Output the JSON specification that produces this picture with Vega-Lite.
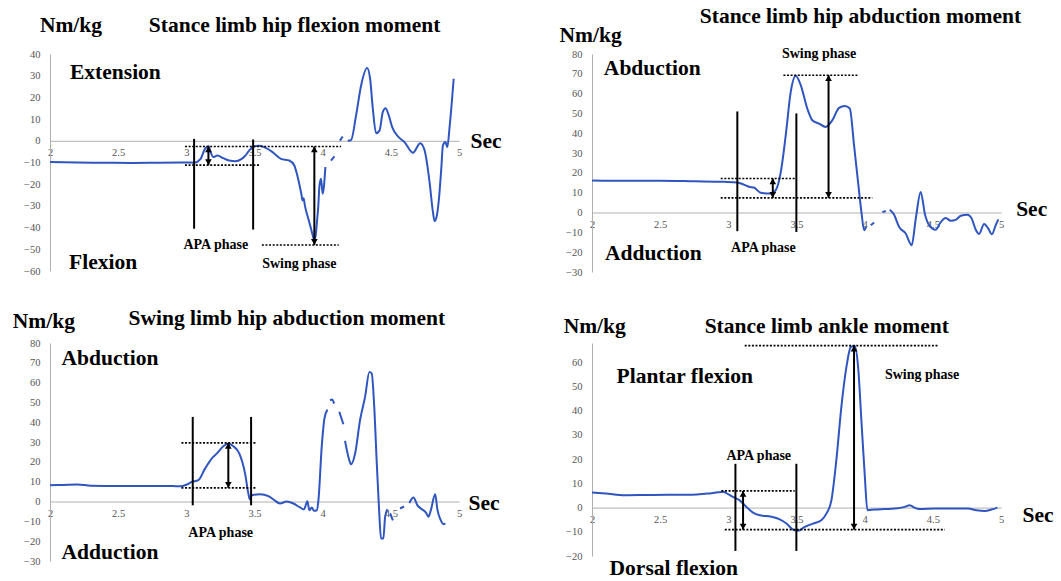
{
"$schema": "https://vega.github.io/schema/vega-lite/v6.json",
"padding": {"left": 12, "top": 5, "right": 0, "bottom": 0},
"background": "white",
"config": {"view": {"stroke": null}, "axis": {"domainColor": "#b0b0b0", "domainWidth": 1, "ticks": false, "tickSize": 0, "grid": false, "labelFont": "Liberation Serif", "labelFontSize": 10.5, "labelColor": "#555555", "title": null}},
"datasets": {
"curves": [
{"panel":1,"seg":"a","t":2,"v":-9.8},{"panel":1,"seg":"a","t":2.2,"v":-10.0},{"panel":1,"seg":"a","t":2.4,"v":-10.1},{"panel":1,"seg":"a","t":2.6,"v":-10.2},{"panel":1,"seg":"a","t":2.8,"v":-10.1},{"panel":1,"seg":"a","t":3.0,"v":-10.0},{"panel":1,"seg":"a","t":3.057,"v":-10.1},{"panel":1,"seg":"a","t":3.105,"v":-8.3},{"panel":1,"seg":"a","t":3.137,"v":-3.7},{"panel":1,"seg":"a","t":3.162,"v":-2.5},{"panel":1,"seg":"a","t":3.18,"v":-5.5},{"panel":1,"seg":"a","t":3.196,"v":-7.5},{"panel":1,"seg":"a","t":3.228,"v":-6.8},{"panel":1,"seg":"a","t":3.27,"v":-8.0},{"panel":1,"seg":"a","t":3.314,"v":-9.1},{"panel":1,"seg":"a","t":3.36,"v":-9.4},{"panel":1,"seg":"a","t":3.4,"v":-8.6},{"panel":1,"seg":"a","t":3.43,"v":-7.0},{"panel":1,"seg":"a","t":3.461,"v":-4.5},{"panel":1,"seg":"a","t":3.498,"v":-2.5},{"panel":1,"seg":"a","t":3.53,"v":-2.3},{"panel":1,"seg":"a","t":3.571,"v":-2.9},{"panel":1,"seg":"a","t":3.632,"v":-5.2},{"panel":1,"seg":"a","t":3.694,"v":-8.3},{"panel":1,"seg":"a","t":3.755,"v":-9.1},{"panel":1,"seg":"a","t":3.792,"v":-11.4},{"panel":1,"seg":"a","t":3.81,"v":-15},{"panel":1,"seg":"a","t":3.828,"v":-19.8},{"panel":1,"seg":"a","t":3.845,"v":-25},{"panel":1,"seg":"a","t":3.852,"v":-27.5},{"panel":1,"seg":"a","t":3.86,"v":-26.5},{"panel":1,"seg":"a","t":3.87,"v":-30},{"panel":1,"seg":"a","t":3.902,"v":-37.5},{"panel":1,"seg":"a","t":3.925,"v":-43},{"panel":1,"seg":"a","t":3.939,"v":-45.9},{"panel":1,"seg":"a","t":3.95,"v":-43},{"panel":1,"seg":"a","t":3.958,"v":-37.5},{"panel":1,"seg":"a","t":3.968,"v":-30},{"panel":1,"seg":"a","t":3.976,"v":-21},{"panel":1,"seg":"a","t":3.988,"v":-17.5},{"panel":1,"seg":"a","t":4.0,"v":-24.4},{"panel":1,"seg":"a","t":4.02,"v":-12.1},
{"panel":1,"seg":"b","t":4.061,"v":-9.1},{"panel":1,"seg":"b","t":4.086,"v":-7.2},
{"panel":1,"seg":"c","t":4.127,"v":0.1},{"panel":1,"seg":"c","t":4.147,"v":2.0},
{"panel":1,"seg":"d","t":4.184,"v":0},{"panel":1,"seg":"d","t":4.208,"v":0.3},{"panel":1,"seg":"d","t":4.245,"v":11.7},{"panel":1,"seg":"d","t":4.282,"v":25.5},{"panel":1,"seg":"d","t":4.326,"v":33.5},{"panel":1,"seg":"d","t":4.348,"v":28.6},{"panel":1,"seg":"d","t":4.368,"v":14.7},{"panel":1,"seg":"d","t":4.392,"v":3.5},{"panel":1,"seg":"d","t":4.417,"v":4.7},{"panel":1,"seg":"d","t":4.441,"v":13.2},{"panel":1,"seg":"d","t":4.461,"v":15},{"panel":1,"seg":"d","t":4.485,"v":11.7},{"panel":1,"seg":"d","t":4.51,"v":6.3},{"panel":1,"seg":"d","t":4.551,"v":2.1},{"panel":1,"seg":"d","t":4.6,"v":-0.6},{"panel":1,"seg":"d","t":4.662,"v":-5.5},{"panel":1,"seg":"d","t":4.716,"v":-1.1},{"panel":1,"seg":"d","t":4.748,"v":-4.5},{"panel":1,"seg":"d","t":4.784,"v":-19},{"panel":1,"seg":"d","t":4.809,"v":-32.9},{"panel":1,"seg":"d","t":4.821,"v":-37},{"panel":1,"seg":"d","t":4.838,"v":-34.3},{"panel":1,"seg":"d","t":4.853,"v":-26.7},{"panel":1,"seg":"d","t":4.87,"v":-12.9},{"panel":1,"seg":"d","t":4.882,"v":-2.1},{"panel":1,"seg":"d","t":4.9,"v":-0.5},{"panel":1,"seg":"d","t":4.914,"v":-3},{"panel":1,"seg":"d","t":4.932,"v":7},{"panel":1,"seg":"d","t":4.961,"v":28.6},
{"panel":2,"seg":"a","t":2,"v":16.2},{"panel":2,"seg":"a","t":2.25,"v":16.0},{"panel":2,"seg":"a","t":2.5,"v":16.1},{"panel":2,"seg":"a","t":2.75,"v":15.8},{"panel":2,"seg":"a","t":2.968,"v":15.5},{"panel":2,"seg":"a","t":3.066,"v":15.2},{"panel":2,"seg":"a","t":3.11,"v":14.2},{"panel":2,"seg":"a","t":3.152,"v":13},{"panel":2,"seg":"a","t":3.188,"v":12.6},{"panel":2,"seg":"a","t":3.238,"v":10.0},{"panel":2,"seg":"a","t":3.311,"v":9.6},{"panel":2,"seg":"a","t":3.348,"v":11.3},{"panel":2,"seg":"a","t":3.385,"v":20.5},{"panel":2,"seg":"a","t":3.421,"v":39},{"panel":2,"seg":"a","t":3.458,"v":61},{"panel":2,"seg":"a","t":3.494,"v":69},{"panel":2,"seg":"a","t":3.531,"v":64.3},{"panel":2,"seg":"a","t":3.579,"v":52.5},{"panel":2,"seg":"a","t":3.616,"v":46.6},{"panel":2,"seg":"a","t":3.665,"v":44.9},{"panel":2,"seg":"a","t":3.714,"v":43.2},{"panel":2,"seg":"a","t":3.763,"v":46.6},{"panel":2,"seg":"a","t":3.812,"v":52.8},{"panel":2,"seg":"a","t":3.854,"v":53.8},{"panel":2,"seg":"a","t":3.891,"v":52.5},{"panel":2,"seg":"a","t":3.922,"v":34},{"panel":2,"seg":"a","t":3.954,"v":13.8},{"panel":2,"seg":"a","t":3.976,"v":0.4},{"panel":2,"seg":"a","t":3.996,"v":-8.9},{"panel":2,"seg":"a","t":4.01,"v":-7.2},
{"panel":2,"seg":"b","t":4.045,"v":-6.4},{"panel":2,"seg":"b","t":4.069,"v":-5.0},
{"panel":2,"seg":"c","t":4.13,"v":0.2},{"panel":2,"seg":"c","t":4.155,"v":0.8},
{"panel":2,"seg":"d","t":4.184,"v":1.4},{"panel":2,"seg":"d","t":4.216,"v":-1.1},{"panel":2,"seg":"d","t":4.252,"v":-7.2},{"panel":2,"seg":"d","t":4.301,"v":-10.6},{"panel":2,"seg":"d","t":4.345,"v":-16.5},{"panel":2,"seg":"d","t":4.375,"v":-3},{"panel":2,"seg":"d","t":4.411,"v":10.4},{"panel":2,"seg":"d","t":4.443,"v":-1.1},{"panel":2,"seg":"d","t":4.472,"v":-6.2},{"panel":2,"seg":"d","t":4.521,"v":-8.7},{"panel":2,"seg":"d","t":4.553,"v":-5.3},{"panel":2,"seg":"d","t":4.595,"v":-2.8},{"panel":2,"seg":"d","t":4.63,"v":-4.1},{"panel":2,"seg":"d","t":4.668,"v":-3.7},{"panel":2,"seg":"d","t":4.705,"v":-1.6},{"panel":2,"seg":"d","t":4.754,"v":-1.1},{"panel":2,"seg":"d","t":4.783,"v":-2.8},{"panel":2,"seg":"d","t":4.815,"v":-8.7},{"panel":2,"seg":"d","t":4.839,"v":-10.8},{"panel":2,"seg":"d","t":4.876,"v":-5.8},{"panel":2,"seg":"d","t":4.905,"v":-7.9},{"panel":2,"seg":"d","t":4.933,"v":-11},{"panel":2,"seg":"d","t":4.962,"v":-6.2},{"panel":2,"seg":"d","t":4.98,"v":-3.4},
{"panel":3,"seg":"a","t":2,"v":8.2},{"panel":3,"seg":"a","t":2.1,"v":8.4},{"panel":3,"seg":"a","t":2.2,"v":8.6},{"panel":3,"seg":"a","t":2.3,"v":8.0},{"panel":3,"seg":"a","t":2.5,"v":7.8},{"panel":3,"seg":"a","t":2.7,"v":7.9},{"panel":3,"seg":"a","t":2.9,"v":7.8},{"panel":3,"seg":"a","t":2.954,"v":7.7},{"panel":3,"seg":"a","t":3.0,"v":8.5},{"panel":3,"seg":"a","t":3.04,"v":9.9},{"panel":3,"seg":"a","t":3.088,"v":10.8},{"panel":3,"seg":"a","t":3.137,"v":16.6},{"panel":3,"seg":"a","t":3.186,"v":21.7},{"panel":3,"seg":"a","t":3.223,"v":24.2},{"panel":3,"seg":"a","t":3.271,"v":27.9},{"panel":3,"seg":"a","t":3.308,"v":29.3},{"panel":3,"seg":"a","t":3.345,"v":27.9},{"panel":3,"seg":"a","t":3.389,"v":24.2},{"panel":3,"seg":"a","t":3.431,"v":14.1},{"panel":3,"seg":"a","t":3.455,"v":4},{"panel":3,"seg":"a","t":3.467,"v":1},{"panel":3,"seg":"a","t":3.48,"v":3.2},{"panel":3,"seg":"a","t":3.541,"v":3.7},{"panel":3,"seg":"a","t":3.602,"v":2.7},{"panel":3,"seg":"a","t":3.64,"v":1},{"panel":3,"seg":"a","t":3.687,"v":-1},{"panel":3,"seg":"a","t":3.736,"v":0},{"panel":3,"seg":"a","t":3.785,"v":-1},{"panel":3,"seg":"a","t":3.834,"v":-3},{"panel":3,"seg":"a","t":3.863,"v":-4},{"panel":3,"seg":"a","t":3.888,"v":0.2},{"panel":3,"seg":"a","t":3.902,"v":-4.4},{"panel":3,"seg":"a","t":3.92,"v":-3},{"panel":3,"seg":"a","t":3.937,"v":-4.7},{"panel":3,"seg":"a","t":3.957,"v":-4.4},{"panel":3,"seg":"a","t":3.969,"v":0.7},{"panel":3,"seg":"a","t":3.993,"v":27.6},{"panel":3,"seg":"a","t":4.013,"v":41.9},{"panel":3,"seg":"a","t":4.035,"v":46.4},
{"panel":3,"seg":"b","t":4.054,"v":51.1},{"panel":3,"seg":"b","t":4.07,"v":51.5},{"panel":3,"seg":"b","t":4.084,"v":49.4},
{"panel":3,"seg":"c","t":4.122,"v":45.3},{"panel":3,"seg":"c","t":4.152,"v":39},
{"panel":3,"seg":"d","t":4.164,"v":30.6},{"panel":3,"seg":"d","t":4.189,"v":22.5},{"panel":3,"seg":"d","t":4.208,"v":18.8},{"panel":3,"seg":"d","t":4.238,"v":24.2},{"panel":3,"seg":"d","t":4.274,"v":41},{"panel":3,"seg":"d","t":4.311,"v":52.8},{"panel":3,"seg":"d","t":4.343,"v":65.4},{"panel":3,"seg":"d","t":4.36,"v":64.6},{"panel":3,"seg":"d","t":4.377,"v":49.4},{"panel":3,"seg":"d","t":4.397,"v":19.2},{"panel":3,"seg":"d","t":4.414,"v":-4.4},{"panel":3,"seg":"d","t":4.428,"v":-18.7},{"panel":3,"seg":"d","t":4.445,"v":-18.7},{"panel":3,"seg":"d","t":4.458,"v":-7.7},{"panel":3,"seg":"d","t":4.475,"v":-3.9},
{"panel":3,"seg":"e","t":4.495,"v":-6},{"panel":3,"seg":"e","t":4.515,"v":-9.5},
{"panel":3,"seg":"f","t":4.568,"v":-3.5},{"panel":3,"seg":"f","t":4.597,"v":-2.5},
{"panel":3,"seg":"g","t":4.636,"v":-0.7},{"panel":3,"seg":"g","t":4.666,"v":2},{"panel":3,"seg":"g","t":4.695,"v":-1.9},{"panel":3,"seg":"g","t":4.72,"v":-3.5},{"panel":3,"seg":"g","t":4.759,"v":-5.7},{"panel":3,"seg":"g","t":4.776,"v":-7.7},{"panel":3,"seg":"g","t":4.794,"v":-4.2},{"panel":3,"seg":"g","t":4.825,"v":3.7},{"panel":3,"seg":"g","t":4.842,"v":-4.2},{"panel":3,"seg":"g","t":4.866,"v":-9.4},{"panel":3,"seg":"g","t":4.886,"v":-11.4},{"panel":3,"seg":"g","t":4.9,"v":-11},
{"panel":4,"seg":"a","t":2,"v":6.2},{"panel":4,"seg":"a","t":2.1,"v":5.8},{"panel":4,"seg":"a","t":2.24,"v":5.1},{"panel":4,"seg":"a","t":2.4,"v":5.2},{"panel":4,"seg":"a","t":2.55,"v":5.3},{"panel":4,"seg":"a","t":2.704,"v":5.3},{"panel":4,"seg":"a","t":2.85,"v":5.8},{"panel":4,"seg":"a","t":2.924,"v":6.3},{"panel":4,"seg":"a","t":2.961,"v":6.5},{"panel":4,"seg":"a","t":2.985,"v":6.0},{"panel":4,"seg":"a","t":3.034,"v":4.4},{"panel":4,"seg":"a","t":3.083,"v":3.0},{"panel":4,"seg":"a","t":3.132,"v":0.3},{"panel":4,"seg":"a","t":3.181,"v":-2.1},{"panel":4,"seg":"a","t":3.23,"v":-3.2},{"panel":4,"seg":"a","t":3.316,"v":-3.8},{"panel":4,"seg":"a","t":3.377,"v":-4.9},{"panel":4,"seg":"a","t":3.426,"v":-6.6},{"panel":4,"seg":"a","t":3.475,"v":-9.1},{"panel":4,"seg":"a","t":3.511,"v":-9.6},{"panel":4,"seg":"a","t":3.56,"v":-8},{"panel":4,"seg":"a","t":3.621,"v":-6.6},{"panel":4,"seg":"a","t":3.682,"v":-5.2},{"panel":4,"seg":"a","t":3.719,"v":-2.5},{"panel":4,"seg":"a","t":3.756,"v":3},{"panel":4,"seg":"a","t":3.792,"v":19.5},{"panel":4,"seg":"a","t":3.829,"v":41.5},{"panel":4,"seg":"a","t":3.866,"v":58},{"panel":4,"seg":"a","t":3.898,"v":66.3},{"panel":4,"seg":"a","t":3.927,"v":66.9},{"panel":4,"seg":"a","t":3.952,"v":58},{"panel":4,"seg":"a","t":3.976,"v":36},{"panel":4,"seg":"a","t":4.0,"v":14},{"panel":4,"seg":"a","t":4.02,"v":-1.1},{"panel":4,"seg":"a","t":4.074,"v":-0.8},{"panel":4,"seg":"a","t":4.147,"v":-0.6},{"panel":4,"seg":"a","t":4.22,"v":-0.4},{"panel":4,"seg":"a","t":4.294,"v":0.3},{"panel":4,"seg":"a","t":4.331,"v":1},{"panel":4,"seg":"a","t":4.367,"v":-0.1},{"panel":4,"seg":"a","t":4.404,"v":-0.6},{"panel":4,"seg":"a","t":4.514,"v":-0.4},{"panel":4,"seg":"a","t":4.636,"v":-0.4},{"panel":4,"seg":"a","t":4.758,"v":-0.4},{"panel":4,"seg":"a","t":4.82,"v":-1.1},{"panel":4,"seg":"a","t":4.881,"v":-1.4},{"panel":4,"seg":"a","t":4.93,"v":-0.8},{"panel":4,"seg":"a","t":4.974,"v":0}
],
"vlines": [
{"panel":1,"t":3.057,"v":0.9,"v2":-40.5},{"panel":1,"t":3.49,"v":0.6,"v2":-40.9},
{"panel":2,"t":3.066,"v":51,"v2":-9.4},{"panel":2,"t":3.499,"v":50,"v2":-9.8},
{"panel":3,"t":3.047,"v":42.7,"v2":-1.9},{"panel":3,"t":3.475,"v":42.7,"v2":-1.9},
{"panel":4,"t":3.052,"v":18.1,"v2":-17.9},{"panel":4,"t":3.499,"v":18.1,"v2":-17.9}
],
"dots": [
{"panel":1,"t":2.99,"t2":4.135,"v":-2.6},{"panel":1,"t":2.99,"t2":3.54,"v":-11.2},{"panel":1,"t":3.554,"t2":4.118,"v":-48},
{"panel":2,"t":2.944,"t2":3.499,"v":17.2},{"panel":2,"t":2.944,"t2":4.056,"v":7.4},{"panel":2,"t":3.404,"t2":3.959,"v":69.3},
{"panel":3,"t":2.964,"t2":3.515,"v":29.6},{"panel":3,"t":2.964,"t2":3.515,"v":6.9},
{"panel":4,"t":2.949,"t2":3.487,"v":6.9},{"panel":4,"t":2.974,"t2":4.588,"v":-9.1},{"panel":4,"t":3.12,"t2":4.539,"v":66.9}
],
"arrows": [
{"panel":1,"t":3.162,"v":-2.6,"v2":-11.2},{"panel":1,"t":3.939,"v":-2.6,"v2":-48},
{"panel":2,"t":3.326,"v":17.2,"v2":7.4},{"panel":2,"t":3.735,"v":69.3,"v2":7.4},
{"panel":3,"t":3.308,"v":29.6,"v2":6.9},
{"panel":4,"t":3.108,"v":6.9,"v2":-9.1},{"panel":4,"t":3.922,"v":66.9,"v2":-9.1}
],
"bigtext": [
{"panel":1,"t":2.154,"v":52.8,"label":"Nm/kg"},{"panel":1,"t":3.794,"v":52.8,"label":"Stance limb hip flexion moment"},{"panel":1,"t":2.48,"v":31.2,"label":"Extension"},{"panel":1,"t":2.39,"v":-56.4,"label":"Flexion"},{"panel":1,"t":5.198,"v":-0.5,"label":"Sec"},
{"panel":2,"t":1.99,"v":89,"label":"Nm/kg"},{"panel":2,"t":3.969,"v":98.8,"label":"Stance limb hip abduction moment"},{"panel":2,"t":2.442,"v":72.6,"label":"Abduction"},{"panel":2,"t":2.45,"v":-20.7,"label":"Adduction"},{"panel":2,"t":5.225,"v":1.2,"label":"Sec"},
{"panel":3,"t":1.955,"v":90.7,"label":"Nm/kg"},{"panel":3,"t":3.737,"v":92,"label":"Swing limb hip abduction moment"},{"panel":3,"t":2.44,"v":72.1,"label":"Abduction"},{"panel":3,"t":2.44,"v":-26.2,"label":"Adduction"},{"panel":3,"t":5.184,"v":-1,"label":"Sec"},
{"panel":4,"t":2.02,"v":74.5,"label":"Nm/kg"},{"panel":4,"t":3.722,"v":74.5,"label":"Stance limb ankle moment"},{"panel":4,"t":2.68,"v":54.1,"label":"Plantar flexion"},{"panel":4,"t":2.6,"v":-25.2,"label":"Dorsal flexion"},{"panel":4,"t":5.272,"v":-3.6,"label":"Sec"}
],
"smalltext": [
{"panel":1,"t":3.216,"v":-47.8,"label":"APA phase"},{"panel":1,"t":3.829,"v":-57,"label":"Swing phase"},
{"panel":2,"t":3.666,"v":80,"label":"Swing phase"},{"panel":2,"t":3.257,"v":-18,"label":"APA phase"},
{"panel":3,"t":3.252,"v":-16.1,"label":"APA phase"},
{"panel":4,"t":3.223,"v":21.2,"label":"APA phase"},{"panel":4,"t":4.421,"v":54.8,"label":"Swing phase"}
]
},
"columns": 2,
"bounds": "flush",
"spacing": {"row": 71, "column": 133},
"concat": [
{
"width": 409, "height": 217,
"encoding": {
"x": {"field": "t", "type": "quantitative", "scale": {"domain": [2, 5], "nice": false, "zero": false}, "axis": {"orient": "bottom", "offset": -130.2, "values": [2, 2.5, 3, 3.5, 4, 4.5, 5], "format": "~g", "labelPadding": 7, "labelOverlap": false, "labelFlush": false, "title": null}},
"y": {"field": "v", "type": "quantitative", "scale": {"domain": [-60, 40], "nice": false, "zero": false}, "axis": {"values": [-60, -50, -40, -30, -20, -10, 0, 10, 20, 30, 40], "labelPadding": 10, "title": null}}
},
"layer": [
{"data": {"name": "curves"}, "transform": [{"filter": "datum.panel == 1"}], "mark": {"type": "line", "interpolate": "monotone", "color": "#2f55c0", "strokeWidth": 2}, "encoding": {"detail": {"field": "seg"}}},
{"data": {"name": "vlines"}, "transform": [{"filter": "datum.panel == 1"}], "mark": {"type": "rule", "color": "black", "strokeWidth": 2}, "encoding": {"y2": {"field": "v2"}}},
{"data": {"name": "dots"}, "transform": [{"filter": "datum.panel == 1"}], "mark": {"type": "rule", "color": "black", "strokeWidth": 1.6, "strokeDash": [2, 1.6]}, "encoding": {"x2": {"field": "t2"}}},
{"data": {"name": "arrows"}, "transform": [{"filter": "datum.panel == 1"}], "mark": {"type": "rule", "color": "black", "strokeWidth": 2}, "encoding": {"y2": {"field": "v2"}}},
{"data": {"name": "arrows"}, "transform": [{"filter": "datum.panel == 1"}], "mark": {"type": "point", "shape": "triangle-up", "filled": true, "color": "black", "opacity": 1, "size": 45, "yOffset": 3}},
{"data": {"name": "arrows"}, "transform": [{"filter": "datum.panel == 1"}], "mark": {"type": "point", "shape": "triangle-down", "filled": true, "color": "black", "opacity": 1, "size": 45, "yOffset": -3}, "encoding": {"y": {"field": "v2", "type": "quantitative", "scale": {"domain": [-60, 40], "nice": false, "zero": false}, "axis": {"values": [-60, -50, -40, -30, -20, -10, 0, 10, 20, 30, 40], "labelPadding": 10, "title": null}}}},
{"data": {"name": "bigtext"}, "transform": [{"filter": "datum.panel == 1"}], "mark": {"type": "text", "font": "Liberation Serif", "fontWeight": "bold", "fontSize": 21.5, "color": "black", "align": "center", "baseline": "middle"}, "encoding": {"text": {"field": "label"}}},
{"data": {"name": "smalltext"}, "transform": [{"filter": "datum.panel == 1"}], "mark": {"type": "text", "font": "Liberation Serif", "fontWeight": "bold", "fontSize": 14, "color": "black", "align": "center", "baseline": "middle"}, "encoding": {"text": {"field": "label"}}}
]
},
{
"width": 409, "height": 218,
"encoding": {
"x": {"field": "t", "type": "quantitative", "scale": {"domain": [2, 5], "nice": false, "zero": false}, "axis": {"orient": "bottom", "offset": -59.5, "values": [2, 2.5, 3, 3.5, 4, 4.5, 5], "format": "~g", "labelPadding": 7, "labelOverlap": false, "labelFlush": false, "title": null}},
"y": {"field": "v", "type": "quantitative", "scale": {"domain": [-30, 80], "nice": false, "zero": false}, "axis": {"values": [-30, -20, -10, 0, 10, 20, 30, 40, 50, 60, 70, 80], "labelPadding": 10, "title": null}}
},
"layer": [
{"data": {"name": "curves"}, "transform": [{"filter": "datum.panel == 2"}], "mark": {"type": "line", "interpolate": "monotone", "color": "#2f55c0", "strokeWidth": 2}, "encoding": {"detail": {"field": "seg"}}},
{"data": {"name": "vlines"}, "transform": [{"filter": "datum.panel == 2"}], "mark": {"type": "rule", "color": "black", "strokeWidth": 2}, "encoding": {"y2": {"field": "v2"}}},
{"data": {"name": "dots"}, "transform": [{"filter": "datum.panel == 2"}], "mark": {"type": "rule", "color": "black", "strokeWidth": 1.6, "strokeDash": [2, 1.6]}, "encoding": {"x2": {"field": "t2"}}},
{"data": {"name": "arrows"}, "transform": [{"filter": "datum.panel == 2"}], "mark": {"type": "rule", "color": "black", "strokeWidth": 2}, "encoding": {"y2": {"field": "v2"}}},
{"data": {"name": "arrows"}, "transform": [{"filter": "datum.panel == 2"}], "mark": {"type": "point", "shape": "triangle-up", "filled": true, "color": "black", "opacity": 1, "size": 45, "yOffset": 3}},
{"data": {"name": "arrows"}, "transform": [{"filter": "datum.panel == 2"}], "mark": {"type": "point", "shape": "triangle-down", "filled": true, "color": "black", "opacity": 1, "size": 45, "yOffset": -3}, "encoding": {"y": {"field": "v2", "type": "quantitative", "scale": {"domain": [-30, 80], "nice": false, "zero": false}, "axis": {"values": [-30, -20, -10, 0, 10, 20, 30, 40, 50, 60, 70, 80], "labelPadding": 10, "title": null}}}},
{"data": {"name": "bigtext"}, "transform": [{"filter": "datum.panel == 2"}], "mark": {"type": "text", "font": "Liberation Serif", "fontWeight": "bold", "fontSize": 21.5, "color": "black", "align": "center", "baseline": "middle"}, "encoding": {"text": {"field": "label"}}},
{"data": {"name": "smalltext"}, "transform": [{"filter": "datum.panel == 2"}], "mark": {"type": "text", "font": "Liberation Serif", "fontWeight": "bold", "fontSize": 14, "color": "black", "align": "center", "baseline": "middle"}, "encoding": {"text": {"field": "label"}}}
]
},
{
"width": 409, "height": 218,
"encoding": {
"x": {"field": "t", "type": "quantitative", "scale": {"domain": [2, 5], "nice": false, "zero": false}, "axis": {"orient": "bottom", "offset": -59.5, "values": [2, 2.5, 3, 3.5, 4, 4.5, 5], "format": "~g", "labelPadding": 7, "labelOverlap": false, "labelFlush": false, "title": null}},
"y": {"field": "v", "type": "quantitative", "scale": {"domain": [-30, 80], "nice": false, "zero": false}, "axis": {"values": [-30, -20, -10, 0, 10, 20, 30, 40, 50, 60, 70, 80], "labelPadding": 10, "title": null}}
},
"layer": [
{"data": {"name": "curves"}, "transform": [{"filter": "datum.panel == 3"}], "mark": {"type": "line", "interpolate": "monotone", "color": "#2f55c0", "strokeWidth": 2}, "encoding": {"detail": {"field": "seg"}}},
{"data": {"name": "vlines"}, "transform": [{"filter": "datum.panel == 3"}], "mark": {"type": "rule", "color": "black", "strokeWidth": 2}, "encoding": {"y2": {"field": "v2"}}},
{"data": {"name": "dots"}, "transform": [{"filter": "datum.panel == 3"}], "mark": {"type": "rule", "color": "black", "strokeWidth": 1.6, "strokeDash": [2, 1.6]}, "encoding": {"x2": {"field": "t2"}}},
{"data": {"name": "arrows"}, "transform": [{"filter": "datum.panel == 3"}], "mark": {"type": "rule", "color": "black", "strokeWidth": 2}, "encoding": {"y2": {"field": "v2"}}},
{"data": {"name": "arrows"}, "transform": [{"filter": "datum.panel == 3"}], "mark": {"type": "point", "shape": "triangle-up", "filled": true, "color": "black", "opacity": 1, "size": 45, "yOffset": 3}},
{"data": {"name": "arrows"}, "transform": [{"filter": "datum.panel == 3"}], "mark": {"type": "point", "shape": "triangle-down", "filled": true, "color": "black", "opacity": 1, "size": 45, "yOffset": -3}, "encoding": {"y": {"field": "v2", "type": "quantitative", "scale": {"domain": [-30, 80], "nice": false, "zero": false}, "axis": {"values": [-30, -20, -10, 0, 10, 20, 30, 40, 50, 60, 70, 80], "labelPadding": 10, "title": null}}}},
{"data": {"name": "bigtext"}, "transform": [{"filter": "datum.panel == 3"}], "mark": {"type": "text", "font": "Liberation Serif", "fontWeight": "bold", "fontSize": 21.5, "color": "black", "align": "center", "baseline": "middle"}, "encoding": {"text": {"field": "label"}}},
{"data": {"name": "smalltext"}, "transform": [{"filter": "datum.panel == 3"}], "mark": {"type": "text", "font": "Liberation Serif", "fontWeight": "bold", "fontSize": 14, "color": "black", "align": "center", "baseline": "middle"}, "encoding": {"text": {"field": "label"}}}
]
},
{
"width": 409, "height": 213,
"encoding": {
"x": {"field": "t", "type": "quantitative", "scale": {"domain": [2, 5], "nice": false, "zero": false}, "axis": {"orient": "bottom", "offset": -48.4, "values": [2, 2.5, 3, 3.5, 4, 4.5, 5], "format": "~g", "labelPadding": 7, "labelOverlap": false, "labelFlush": false, "title": null}},
"y": {"field": "v", "type": "quantitative", "scale": {"domain": [-20, 68], "nice": false, "zero": false}, "axis": {"values": [-20, -10, 0, 10, 20, 30, 40, 50, 60], "labelPadding": 10, "title": null}}
},
"layer": [
{"data": {"name": "curves"}, "transform": [{"filter": "datum.panel == 4"}], "mark": {"type": "line", "interpolate": "monotone", "color": "#2f55c0", "strokeWidth": 2}, "encoding": {"detail": {"field": "seg"}}},
{"data": {"name": "vlines"}, "transform": [{"filter": "datum.panel == 4"}], "mark": {"type": "rule", "color": "black", "strokeWidth": 2}, "encoding": {"y2": {"field": "v2"}}},
{"data": {"name": "dots"}, "transform": [{"filter": "datum.panel == 4"}], "mark": {"type": "rule", "color": "black", "strokeWidth": 1.6, "strokeDash": [2, 1.6]}, "encoding": {"x2": {"field": "t2"}}},
{"data": {"name": "arrows"}, "transform": [{"filter": "datum.panel == 4"}], "mark": {"type": "rule", "color": "black", "strokeWidth": 2}, "encoding": {"y2": {"field": "v2"}}},
{"data": {"name": "arrows"}, "transform": [{"filter": "datum.panel == 4"}], "mark": {"type": "point", "shape": "triangle-up", "filled": true, "color": "black", "opacity": 1, "size": 45, "yOffset": 3}},
{"data": {"name": "arrows"}, "transform": [{"filter": "datum.panel == 4"}], "mark": {"type": "point", "shape": "triangle-down", "filled": true, "color": "black", "opacity": 1, "size": 45, "yOffset": -3}, "encoding": {"y": {"field": "v2", "type": "quantitative", "scale": {"domain": [-20, 68], "nice": false, "zero": false}, "axis": {"values": [-20, -10, 0, 10, 20, 30, 40, 50, 60], "labelPadding": 10, "title": null}}}},
{"data": {"name": "bigtext"}, "transform": [{"filter": "datum.panel == 4"}], "mark": {"type": "text", "font": "Liberation Serif", "fontWeight": "bold", "fontSize": 21.5, "color": "black", "align": "center", "baseline": "middle"}, "encoding": {"text": {"field": "label"}}},
{"data": {"name": "smalltext"}, "transform": [{"filter": "datum.panel == 4"}], "mark": {"type": "text", "font": "Liberation Serif", "fontWeight": "bold", "fontSize": 14, "color": "black", "align": "center", "baseline": "middle"}, "encoding": {"text": {"field": "label"}}}
]
}
]
}
